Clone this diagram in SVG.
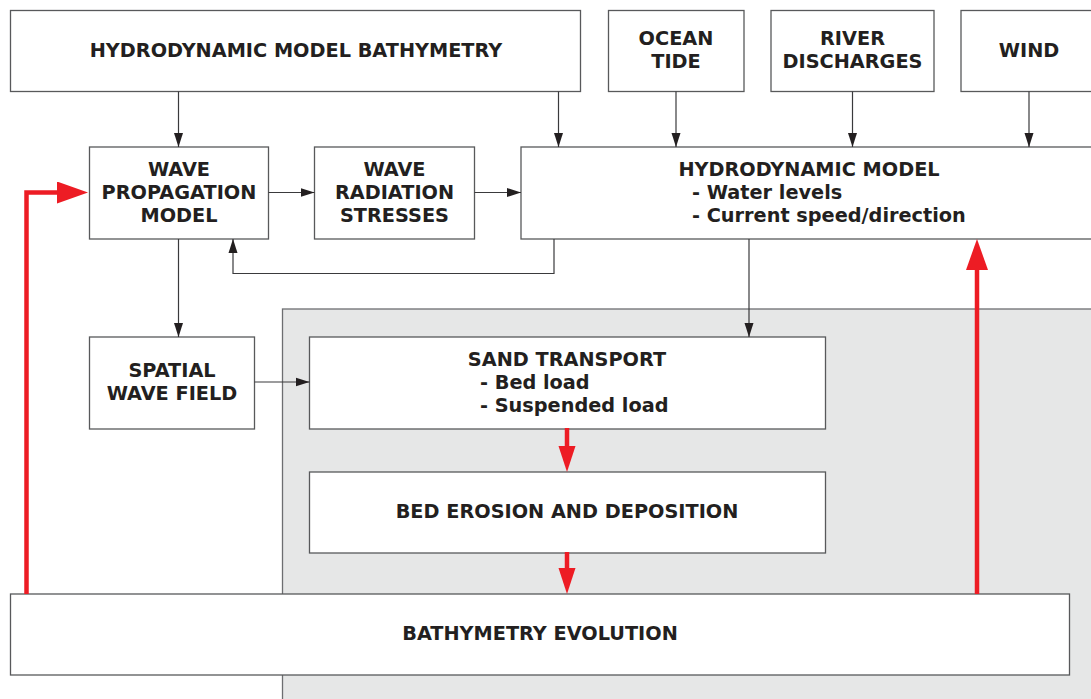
<svg xmlns="http://www.w3.org/2000/svg" width="1091" height="699" viewBox="0 0 1091 699">
<style>
.box{fill:#ffffff;stroke:#58595b;stroke-width:1.3}
.region{fill:#e6e7e7;stroke:#6d6e71;stroke-width:1.3}
.t{font-family:"DejaVu Sans","Verdana",sans-serif;font-weight:bold;font-size:19.3px;fill:#231f20}
.c{text-anchor:middle}
.s{text-anchor:start}
.ln{fill:none;stroke:#3a3a3c;stroke-width:1.2}
.red{fill:none;stroke:#ed1c24;stroke-width:4.5}
</style>
<defs>
<marker id="ah" markerUnits="userSpaceOnUse" markerWidth="14" markerHeight="10" refX="14" refY="5" orient="auto" viewBox="0 0 14 10">
<path d="M0,0.5 L14,5 L0,9.5 z" fill="#231f20"/>
</marker>
<marker id="rbig" markerUnits="userSpaceOnUse" markerWidth="31" markerHeight="22" refX="0" refY="11" orient="auto" viewBox="0 0 31 22">
<path d="M0,0 L31,11 L0,22 z" fill="#ed1c24"/>
</marker>
<marker id="rsm" markerUnits="userSpaceOnUse" markerWidth="26" markerHeight="18" refX="0" refY="9" orient="auto" viewBox="0 0 26 18">
<path d="M0,0.5 L26,9 L0,17.5 z" fill="#ed1c24"/>
</marker>
</defs>
<rect width="1091" height="699" fill="#ffffff"/>
<rect id="morphology-region" class="region" x="282.5" y="309" width="820" height="400"/>

<g id="hmb"><rect class="box" x="10.5" y="10.5" width="570" height="81"/>
<text class="t c" x="296" y="57">HYDRODYNAMIC MODEL BATHYMETRY</text></g>
<g id="ocean-tide"><rect class="box" x="608.5" y="10.5" width="135.5" height="81"/>
<text class="t c" x="676" y="45">OCEAN</text><text class="t c" x="676" y="68">TIDE</text></g>
<g id="river"><rect class="box" x="771" y="10.5" width="163" height="81"/>
<text class="t c" x="852.5" y="45">RIVER</text><text class="t c" x="852.5" y="68">DISCHARGES</text></g>
<g id="wind"><rect class="box" x="961" y="10.5" width="136" height="81"/>
<text class="t c" x="1029" y="57">WIND</text></g>

<g id="wave-prop"><rect class="box" x="89.5" y="147" width="179" height="92"/>
<text class="t c" x="179" y="176">WAVE</text><text class="t c" x="179" y="199">PROPAGATION</text><text class="t c" x="179" y="222">MODEL</text></g>
<g id="wave-rad"><rect class="box" x="314.5" y="147" width="160" height="92"/>
<text class="t c" x="394.5" y="176">WAVE</text><text class="t c" x="394.5" y="199">RADIATION</text><text class="t c" x="394.5" y="222">STRESSES</text></g>
<g id="hydro"><rect class="box" x="521" y="147" width="576" height="92"/>
<text class="t c" x="809" y="176">HYDRODYNAMIC MODEL</text>
<text class="t s" x="692" y="199">- Water levels</text>
<text class="t s" x="692" y="222">- Current speed/direction</text></g>

<g id="spatial"><rect class="box" x="89.5" y="337" width="165" height="92"/>
<text class="t c" x="172" y="377">SPATIAL</text><text class="t c" x="172" y="400">WAVE FIELD</text></g>
<g id="sand"><rect class="box" x="309.5" y="337" width="516" height="92"/>
<text class="t c" x="567" y="366">SAND TRANSPORT</text>
<text class="t s" x="480" y="389">- Bed load</text>
<text class="t s" x="480" y="412">- Suspended load</text></g>
<g id="bed"><rect class="box" x="309.5" y="472" width="516" height="81"/>
<text class="t c" x="567" y="518">BED EROSION AND DEPOSITION</text></g>
<g id="bathy-evo"><rect class="box" x="10.5" y="594" width="1059" height="81"/>
<text class="t c" x="540" y="640">BATHYMETRY EVOLUTION</text></g>

<g id="connectors">
<line class="ln" x1="178.5" y1="91.5" x2="178.5" y2="147" marker-end="url(#ah)"/>
<line class="ln" x1="558.5" y1="91.5" x2="558.5" y2="147" marker-end="url(#ah)"/>
<line class="ln" x1="676" y1="91.5" x2="676" y2="147" marker-end="url(#ah)"/>
<line class="ln" x1="852.5" y1="91.5" x2="852.5" y2="147" marker-end="url(#ah)"/>
<line class="ln" x1="1029" y1="91.5" x2="1029" y2="147" marker-end="url(#ah)"/>
<line class="ln" x1="268.5" y1="192.5" x2="314.5" y2="192.5" marker-end="url(#ah)"/>
<line class="ln" x1="474.5" y1="192.5" x2="521" y2="192.5" marker-end="url(#ah)"/>
<polyline class="ln" points="554,239 554,273.5 233,273.5 233,239" marker-end="url(#ah)"/>
<line class="ln" x1="178.5" y1="239" x2="178.5" y2="337" marker-end="url(#ah)"/>
<line class="ln" x1="254.5" y1="382" x2="309.5" y2="382" marker-end="url(#ah)"/>
<line class="ln" x1="749" y1="239" x2="749" y2="337" marker-end="url(#ah)"/>
<polyline class="red" points="26.5,594 26.5,192.5 57,192.5" marker-end="url(#rbig)"/>
<line class="red" x1="977" y1="594" x2="977" y2="270" marker-end="url(#rbig)"/>
<line class="red" x1="567" y1="428" x2="567" y2="446" marker-end="url(#rsm)"/>
<line class="red" x1="567" y1="552" x2="567" y2="568" marker-end="url(#rsm)"/>
</g>
</svg>
